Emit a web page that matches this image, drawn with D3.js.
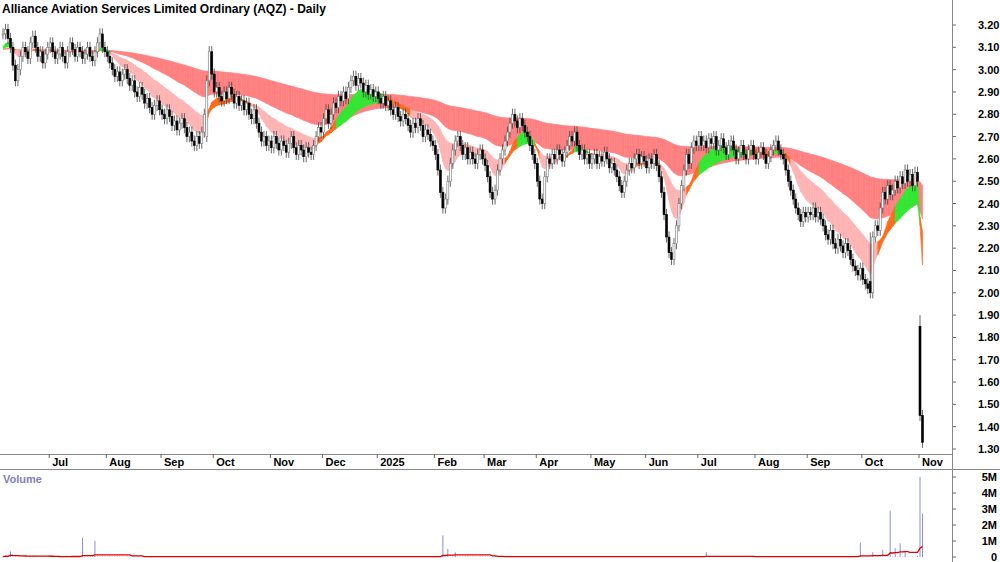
<!DOCTYPE html>
<html><head><meta charset="utf-8">
<script src="https://cdn.jsdelivr.net/npm/d3@7"></script>
<style>body{margin:0;background:#fff}text{font-family:"Liberation Sans",Arial,sans-serif;font-weight:bold}</style>
</head><body><svg id="c" width="1000" height="562"></svg>
<script>
const title = "Alliance Aviation Services Limited Ordinary (AQZ) - Daily";
const startDate = "2024-06-04";
const closes = [
3.16,3.18,3.14,3.10,3.02,2.95,3.00,3.06,3.10,3.08,3.05,3.12,3.15,3.10,3.06,3.08,3.03,3.07,3.10,
3.12,3.08,3.05,3.07,3.10,3.06,3.03,3.08,3.12,3.09,3.06,3.10,3.08,3.05,3.07,3.10,3.06,3.04,3.08,3.12,3.16,3.10,3.08,
3.06,3.03,3.00,2.97,2.99,2.95,2.98,3.00,2.96,2.93,2.95,2.90,2.88,2.92,2.89,2.85,2.87,2.83,2.80,2.84,2.86,2.82,
2.80,2.78,2.82,2.79,2.75,2.77,2.73,2.76,2.78,2.74,2.70,2.72,2.68,2.66,2.70,2.67,2.72,2.80,2.95,3.08,2.98,
2.90,2.92,2.88,2.86,2.90,2.87,2.92,2.89,2.85,2.88,2.84,2.86,2.82,2.85,2.80,2.78,2.82,2.76,2.72,2.68,2.70,2.66,2.68,
2.65,2.70,2.67,2.64,2.68,2.66,2.63,2.67,2.70,2.65,2.62,2.66,2.64,2.61,2.65,2.63,2.62,2.66,2.70,2.74,2.72,
2.78,2.82,2.76,2.80,2.85,2.83,2.88,2.86,2.90,2.87,2.92,2.95,2.97,2.93,2.96,2.94,2.90,2.93,2.89,2.91,2.88,2.90,
2.87,2.85,2.88,2.84,2.86,2.82,2.80,2.83,2.79,2.77,2.80,2.78,2.75,2.72,2.76,2.74,2.78,2.75,2.70,2.73,2.71,2.68,2.66,
2.62,2.55,2.45,2.38,2.42,2.50,2.58,2.64,2.68,2.70,2.66,2.62,2.65,2.60,2.63,2.60,2.58,2.62,2.64,2.60,
2.57,2.52,2.45,2.42,2.46,2.55,2.60,2.64,2.68,2.72,2.76,2.80,2.77,2.74,2.78,2.75,2.72,2.70,2.66,2.62,2.58,
2.50,2.42,2.40,2.52,2.60,2.58,2.62,2.60,2.64,2.62,2.59,2.63,2.66,2.70,2.68,2.72,2.66,2.62,2.64,2.60,2.62,2.58,
2.60,2.62,2.58,2.61,2.59,2.63,2.60,2.56,2.58,2.55,2.52,2.48,2.45,2.50,2.55,2.58,2.56,2.60,2.62,2.58,2.61,2.59,
2.56,2.60,2.58,2.62,2.57,2.52,2.45,2.35,2.25,2.18,2.15,2.22,2.30,2.40,2.48,2.55,2.62,2.58,2.65,2.68,2.66,
2.70,2.66,2.68,2.65,2.69,2.67,2.70,2.64,2.66,2.69,2.65,2.62,2.66,2.68,2.64,2.60,2.63,2.66,2.62,2.60,2.64,2.66,2.62,
2.60,2.63,2.65,2.62,2.58,2.61,2.64,2.66,2.68,2.64,2.62,2.60,2.55,2.50,2.46,2.42,2.38,2.35,2.32,2.36,2.34,
2.36,2.35,2.38,2.34,2.36,2.33,2.30,2.26,2.24,2.28,2.22,2.20,2.24,2.21,2.18,2.22,2.19,2.15,2.12,2.10,2.08,2.11,
2.06,2.04,2.02,2.00,2.25,2.30,2.28,2.38,2.45,2.42,2.48,2.44,2.46,2.50,2.47,2.52,2.49,2.55,2.50,2.53,2.48,2.54,2.50,
1.45,1.33];
const gapBars = [[82,2.70,2.72],[349,2.05,2.27],[369,1.85,1.90]];
const volDigits =
"3823432223245433232224352332433232234322332423432232243232433224233234322343223432234323243322342332433223423324332234233243322342332"+
"4332243233423324332234233243322342332433223423324332234233243322342332433223423324332234233243322342332433223423324332234233243322342"+
"33243322342332433223423324332234233243322342332433223423324332234233243322342332433223423324332234233";
const volSpikes = [[3,0.35],[32,1.2],[37,1.0],[177,1.35],[179,0.5],[182,0.3],[283,0.3],[345,0.9],[350,0.3],[354,0.45],[357,2.9],[359,0.55],[361,0.85],[363,0.4],[369,5.0],[370,2.7],[371,1.5]];
const priceTicks = [3.2,3.1,3.0,2.9,2.8,2.7,2.6,2.5,2.4,2.3,2.2,2.1,2.0,1.9,1.8,1.7,1.6,1.5,1.4,1.3];
const volTicks = [0,1,2,3,4,5];
const monthNames = ["Jan","Feb","Mar","Apr","May","Jun","Jul","Aug","Sep","Oct","Nov","Dec"];
const shortP=[10,13,16,20,25,30], longP=[60,80,100,120,150,180];

const n = closes.length;
const dates = []; let d = new Date(startDate+"T00:00:00");
while (dates.length < n) { const wd=d.getDay(); if (wd>0&&wd<6) dates.push(new Date(d)); d.setDate(d.getDate()+1); }
const gapMap = new Map(gapBars.map(g=>[g[0],g]));
const bars = closes.map((c,i)=>{
  let o = i? closes[i-1] : c, hi, lo;
  if (gapMap.has(i)) o = gapMap.get(i)[1];
  hi = Math.max(o,c)+0.025; lo = Math.min(o,c)-0.025;
  if (gapMap.has(i)) hi = Math.max(hi, gapMap.get(i)[2]);
  return {i,o,c,hi,lo,date:dates[i]};
});
const vols = bars.map((b,i)=> (+volDigits[i % volDigits.length]||2)*0.01);
volSpikes.forEach(([i,v])=>{ if(i<n) vols[i]=v; });

function ema(p){const k=2/(p+1);let e=closes[0]-0.07;return closes.map(c=>e=c*k+e*(1-k));}
const S=shortP.map(ema), L=longP.map(ema);

const svg=d3.select("#c");
const x=d3.scaleLinear().domain([0,369]).range([3,920]);
const y=d3.scaleLinear().domain([1.3,3.2]).range([449,25]);
const yv=d3.scaleLinear().domain([0,5]).range([557,477]);
const bw=2.0;

function ribbon(arr,colorFn){
  for(let i=0;i<n-1;i++){
    const a=arr.map(s=>s[i]), b=arr.map(s=>s[i+1]);
    const pts=[[x(i),y(d3.max(a))],[x(i+1),y(d3.max(b))],[x(i+1),y(d3.min(b))],[x(i),y(d3.min(a))]];
    const c=colorFn(i);
    svg.append("polygon").attr("points",pts.map(p=>p.join(",")).join(" "))
      .attr("fill",c).attr("stroke",c).attr("stroke-width",0.6);
  }
}
ribbon(L,()=> "#ff8080");
ribbon(S,i=>{
  const v=S.map(s=>s[i]); let up=true,dn=true;
  for(let k=1;k<v.length;k++){ if(v[k]>v[k-1]) up=false; if(v[k]<v[k-1]) dn=false; }
  if(up) return "#33e833";
  if(dn) return "#ffb4b4";
  return "#ff6a1a";
});

const g=svg.append("g");
bars.forEach(b=>{
  const cx=x(b.i);
  g.append("line").attr("x1",cx).attr("x2",cx).attr("y1",y(b.hi)).attr("y2",y(b.lo)).attr("stroke","#444").attr("stroke-width",0.8);
  const up=b.c>=b.o;
  const t=y(Math.max(b.o,b.c)), h=Math.max(1,Math.abs(y(b.o)-y(b.c)));
  g.append("rect").attr("x",cx-bw/2).attr("y",t).attr("width",bw).attr("height",h)
   .attr("fill",up?"#fff":"#000").attr("stroke",up?"#777":"#000").attr("stroke-width",0.6);
});

svg.append("line").attr("x1",952.5).attr("x2",952.5).attr("y1",0).attr("y2",562).attr("stroke","#888");
svg.append("line").attr("x1",0).attr("x2",952).attr("y1",454.5).attr("y2",454.5).attr("stroke","#888");
svg.append("line").attr("x1",0).attr("x2",1000).attr("y1",469.5).attr("y2",469.5).attr("stroke","#888");
priceTicks.forEach(p=>{
  svg.append("line").attr("x1",953).attr("x2",956).attr("y1",y(p)).attr("y2",y(p)).attr("stroke","#666");
  svg.append("text").attr("x",978).attr("y",y(p)+4).attr("font-size",11).text(p.toFixed(2));
});
volTicks.forEach(v=>{
  svg.append("line").attr("x1",953).attr("x2",956).attr("y1",yv(v)).attr("y2",yv(v)).attr("stroke","#666");
  svg.append("text").attr("x",997).attr("y",yv(v)+4).attr("font-size",11).attr("text-anchor","end").text(v? v+"M":"0");
});
bars.forEach((b,i)=>{
  if(i===0||b.date.getMonth()===bars[i-1].date.getMonth()) return;
  const m=b.date.getMonth();
  const tx=x(i)-1;
  svg.append("line").attr("x1",tx).attr("x2",tx).attr("y1",454).attr("y2",458).attr("stroke","#666");
  svg.append("text").attr("x",tx+3).attr("y",466).attr("font-size",11).text(m===0?String(b.date.getFullYear()):monthNames[m]);
});
bars.forEach((b,i)=>{
  svg.append("line").attr("x1",x(i)).attr("x2",x(i)).attr("y1",yv(0)).attr("y2",yv(vols[i])).attr("stroke","#8c8ce0").attr("stroke-width",1);
});
const vma=vols.map((v,i)=>d3.mean(vols.slice(Math.max(0,i-19),i+1)));
svg.append("path").attr("d",d3.line().x((v,i)=>x(i)).y(v=>yv(v))(vma)).attr("fill","none").attr("stroke","#e00000").attr("stroke-width",1.3);
svg.append("text").attr("x",3).attr("y",483).attr("font-size",11).attr("fill","#8080c0").text("Volume");
svg.append("text").attr("x",2).attr("y",13).attr("font-size",12).text(title);
</script></body></html>
